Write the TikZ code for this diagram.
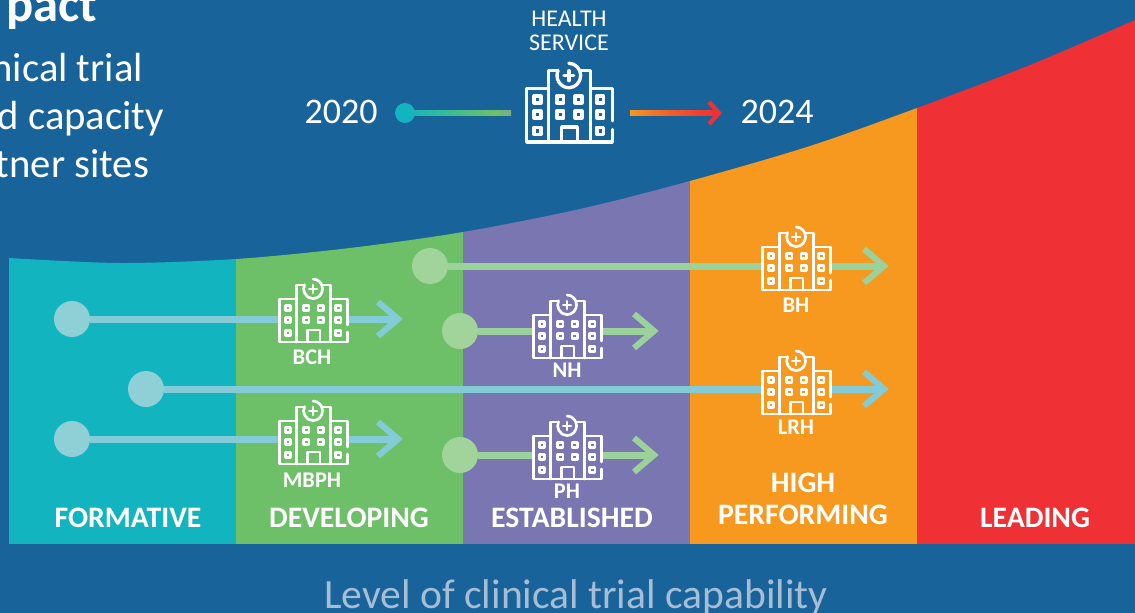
\documentclass[tikz,border=0pt]{standalone}
\usepackage{fontspec}
\setmainfont{Carlito}
\definecolor{bgblue}{HTML}{18639A}
\definecolor{cteal}{HTML}{12B5BF}
\definecolor{cgreen}{HTML}{6DC067}
\definecolor{cpurple}{HTML}{7976B1}
\definecolor{corange}{HTML}{F7981F}
\definecolor{cred}{HTML}{EF3035}
\definecolor{lblue}{HTML}{84CBD8}
\definecolor{lgreen}{HTML}{9BD19A}
\definecolor{dotblue}{HTML}{8ED0D6}
\definecolor{dotgreen}{HTML}{A0D49A}
\definecolor{axistext}{HTML}{A6BDD4}
\definecolor{fadegreen}{HTML}{7AAA88}
\newcommand{\fs}[1]{\fontsize{#1}{#1}\selectfont}
\newcommand{\hospital}[5]{%
\begin{scope}[shift={(#1+1.3*#3,#2)},xscale=0.965*#3,yscale=#3,line width=#4,draw=white,line join=round,line cap=round]
 \fill[#5] (0,21) -- (18,21) -- (18,7) -- (26,7) -- (35,1) -- (44,7) -- (53,7) -- (53,21) -- (71,21) -- (71,64) -- (0,64) -- cycle;
 \draw (18,21) -- (0,21) -- (0,64) -- (71,64) -- (71,54);
 \draw (71,47) -- (71,21) -- (53,21);
 \draw (18,64) -- (18,7) -- (25,7);
 \draw (45,7) -- (53,7) -- (53,64);
 \fill[#5] (35,11) circle[radius=9.5];
 \draw (35,1) arc[start angle=-90,end angle=205,radius=9.8];
 \draw (35,7) -- (35,15) (31,11) -- (39,11);
 \draw (29,64) -- (29,52) -- (42,52) -- (42,64);
 \foreach \wx/\wy in {9/30,9/42,9/55,28/30,28/42,43/30,43/42,61/30,61/42,61/55}
  \draw (\wx-2.8,\wy-2.8) rectangle (\wx+2.8,\wy+2.8);
\end{scope}}
\tikzset{
 x=0.75pt,y=-0.75pt,
 every node/.style={inner sep=0pt,outer sep=0pt},
 barlabel/.style={text=white,anchor=base,font=\bfseries\fs{22.3}},
 sitelabel/.style={text=white,anchor=base,font=\bfseries\fs{16.8}},
 bodytext/.style={text=white,anchor=base east,font=\fs{30.5}},
 yeartext/.style={text=white,anchor=base,font=\fs{27}},
 bluedot/.style={circle,fill=dotblue,minimum size=27pt},
 greendot/.style={circle,fill=dotgreen,minimum size=27pt},
 shaft/.style={line width=5.25pt},
 chevron/.style={line width=4.6pt,line cap=butt,line join=miter},
}
\newcommand{\flow}[4]{%
 \coordinate (#1e) at (#3,#4);
 \draw[shaft,#2] (#1) -- (#1e);
 \draw[chevron,#2] ([shift={(-20,-17)}]#1e) -- (#1e) -- ([shift={(-20,17)}]#1e);
}
\begin{document}
\begin{tikzpicture}
\useasboundingbox (0,0) rectangle (1135,613);
\fill[bgblue] (0,0) rectangle (1135,613);
\begin{scope}
 \clip plot[smooth] coordinates {(9,258)(120,263)(236,259)(350,248)(463,232)(580,209)(690,181)(810,146)(917,108)(1030,65)(1135,20)} -- (1135,544) -- (9,544) -- cycle;
 \fill[cteal] (9,0) rectangle (236,544);
 \fill[cgreen] (236,0) rectangle (463,544);
 \fill[cpurple] (463,0) rectangle (690,544);
 \fill[corange] (690,0) rectangle (917,544);
 \fill[cred] (917,0) rectangle (1135,544);
\end{scope}
\begin{scope}
\clip (0,0) rectangle (1135,613);
\node[text=white,anchor=base east,font=\bfseries\fs{38}] (head) at (97,22) {pact};
\node[bodytext] (t1) at (143,82) {nical trial};
\node[bodytext] (t2) at (164,130) {d capacity};
\node[bodytext] (t3) at (149,178) {tner sites};
\end{scope}
\node[text=white,anchor=base,font=\fs{18}] (hs1) at (569,27) {HEALTH};
\node[text=white,anchor=base,font=\fs{18}] (hs2) at (569,51) {SERVICE};
\node[yeartext] (y20) at (341,124) {2020};
\node[yeartext] (y24) at (777,124) {2024};
\node[circle,fill=cteal,minimum size=15pt] (tdot) at (405,113) {};
\shade[left color=cteal,right color=cgreen] (tdot.center) ++(0,-2.5) rectangle (495,115.5);
\shade[left color=cgreen,right color=fadegreen] (495,110.5) rectangle (511,115.5);
\shade[left color=corange,right color=cred,middle color=cred!60!corange] (630,110.5) rectangle (716,115.5);
\coordinate (tip) at (719,113);
\draw[line width=3.2pt,cred] (709,102) -- (tip) -- (709,124);
\hospital{525}{62}{1.25}{2.5pt}{bgblue}
\node[bluedot] (d1) at (72,319) {};
\node[bluedot] (d2) at (72,439) {};
\node[bluedot] (d3) at (146,389) {};
\node[greendot] (d4) at (430,266) {};
\node[greendot] (d5) at (460,331) {};
\node[greendot] (d6) at (460,455) {};
\flow{d1}{lblue}{398}{319}
\flow{d2}{lblue}{398}{439}
\flow{d3}{lblue}{884}{389}
\flow{d4}{lgreen}{884}{266}
\flow{d5}{lgreen}{654}{331}
\flow{d6}{lgreen}{654}{455}
\hospital{278}{278}{1}{2pt}{cgreen}
\hospital{278}{400}{1}{2pt}{cgreen}
\hospital{532}{294}{1}{2pt}{cpurple}
\hospital{532}{415}{1}{2pt}{cpurple}
\hospital{761}{226}{1}{2pt}{corange}
\hospital{761}{350}{1}{2pt}{corange}
\node[sitelabel] (bch) at (312,364) {BCH};
\node[sitelabel] (mbph) at (312,487) {MBPH};
\node[sitelabel] (nh) at (567,377) {NH};
\node[sitelabel] (ph) at (567,498) {PH};
\node[sitelabel] (bh) at (796,312) {BH};
\node[sitelabel] (lrh) at (796,434) {LRH};
\node[barlabel] (l1) at (128,527) {FORMATIVE};
\node[barlabel] (l2) at (349,527) {DEVELOPING};
\node[barlabel] (l3) at (572,527) {ESTABLISHED};
\node[barlabel] (l4a) at (803,492) {HIGH};
\node[barlabel] (l4b) at (803,524) {PERFORMING};
\node[barlabel] (l5) at (1035,527) {LEADING};
\node[text=axistext,anchor=base,font=\fs{31.2}] (axis) at (576,608) {Level of clinical trial capability};
\end{tikzpicture}
\end{document}
